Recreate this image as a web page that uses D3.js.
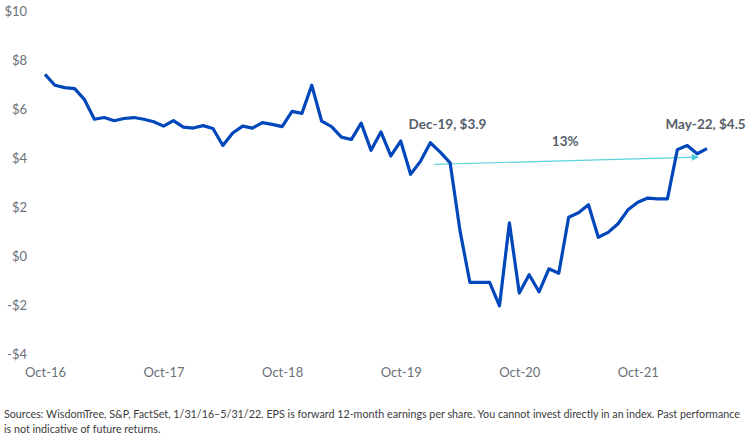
<!DOCTYPE html>
<html>
<head>
<meta charset="utf-8">
<script src="https://cdnjs.cloudflare.com/ajax/libs/d3/7.8.5/d3.min.js"></script>
<style>
  html, body { margin: 0; padding: 0; background: #fff; }
  svg { display: block; }
</style>
</head>
<body>
<div id="chart"></div>
<script>
// monthly forward EPS, Oct-16 .. May-22
var months = [];
var start = new Date(2016, 9, 1);
var eps = [
  7.42, 6.98, 6.88, 6.84, 6.39, 5.59, 5.66, 5.53, 5.62, 5.66,
  5.59, 5.49, 5.31, 5.53, 5.27, 5.23, 5.33, 5.21, 4.52, 5.03,
  5.31, 5.23, 5.45, 5.38, 5.29, 5.91, 5.83, 6.98, 5.51, 5.29,
  4.86, 4.76, 5.43, 4.32, 5.07, 4.09, 4.70, 3.34, 3.87, 4.63,
  4.25, 3.81, 1.04, -1.07, -1.07, -1.07, -2.03, 1.36, -1.51, -0.76,
  -1.46, -0.52, -0.70, 1.59, 1.77, 2.10, 0.77, 0.97, 1.32, 1.89,
  2.20, 2.37, 2.34, 2.34, 4.35, 4.52, 4.18, 4.39
];
var fmt = d3.timeFormat("%b-%y");
eps.forEach(function(v, i) {
  months.push(fmt(d3.timeMonth.offset(start, i)));
});

var yTicks = [-4, -2, 0, 2, 4, 6, 8, 10];
var xTickLabels = ["Oct-16", "Oct-17", "Oct-18", "Oct-19", "Oct-20", "Oct-21"];

// annotations: [month index, value, text]
var noteDec = [36.8, 5.2, "Dec-19, $3.9"];
var noteMay = [62.8, 5.2, "May-22, $4.5"];
var notePct = [51.3, 4.49, "13%"];
var arrowFrom = [39.4, 3.75];
var arrowTo = [66.1, 4.04];

var footer = [
  "Sources: WisdomTree, S&P, FactSet, 1/31/16\u20135/31/22. EPS is forward 12-month earnings per share. You cannot invest directly in an index. Past performance",
  "is not indicative of future returns."
];

var W = 746, H = 444;

var x = d3.scaleLinear().domain([0, eps.length - 1]).range([45, 707]);
var y = d3.scaleLinear().domain([-4, 10]).range([354, 11.3]);

var svg = d3.select("#chart").append("svg")
    .attr("width", W)
    .attr("height", H);

// Eje Y
var yAxis = d3.axisLeft(y)
    .tickValues(yTicks)
    .tickSize(0)
    .tickPadding(0)
    .tickFormat(function(d) { return d < 0 ? "-$" + (-d) : "$" + d; });

svg.append("g")
    .attr("class", "y axis")
    .attr("transform", "translate(27,0)")
    .call(yAxis)
    .call(g => g.select(".domain").remove())
    .selectAll("text")
    .style("font-family", "Lato")
    .style("font-size", "13px")
    .style("fill", "#69707a");

// Eje X
var xAxis = d3.axisBottom(x)
    .tickValues(xTickLabels.map(function(l) { return months.indexOf(l); }))
    .tickSize(0)
    .tickPadding(0)
    .tickFormat(function(d) { return months[d]; });

svg.append("g")
    .attr("class", "x axis")
    .attr("transform", "translate(0,368)")
    .call(xAxis)
    .call(g => g.select(".domain").remove())
    .selectAll("text")
    .style("font-family", "Lato")
    .style("font-size", "13px")
    .style("fill", "#69707a");

// arrow
svg.append("defs").append("marker")
    .attr("id", "head")
    .attr("viewBox", "0 0 10 10")
    .attr("refX", 9)
    .attr("refY", 5)
    .attr("markerWidth", 9)
    .attr("markerHeight", 7)
    .attr("markerUnits", "userSpaceOnUse")
    .attr("orient", "auto")
    .append("path")
    .attr("d", "M0,0L10,5L0,10z")
    .attr("fill", "#3fcad6");

svg.append("line")
    .attr("x1", x(arrowFrom[0]))
    .attr("y1", y(arrowFrom[1]))
    .attr("x2", x(arrowTo[0]))
    .attr("y2", y(arrowTo[1]))
    .attr("stroke", "#5dd3dd")
    .attr("stroke-width", 1.2)
    .attr("marker-end", "url(#head)");

// line
var line = d3.line()
    .x(function(d, i) { return x(i); })
    .y(function(d) { return y(d); });

svg.append("path")
    .datum(eps)
    .attr("d", line)
    .attr("fill", "none")
    .attr("stroke", "#0047bb")
    .attr("stroke-width", 3.2)
    .attr("stroke-linejoin", "round");

// labels
[noteDec, noteMay, notePct].forEach(function(n) {
    svg.append("text")
        .attr("x", x(n[0]))
        .attr("y", y(n[1]))
        .style("font-family", "Lato")
        .style("font-size", "13.5px")
        .style("font-weight", "bold")
        .style("fill", "#545e69")
        .text(n[2]);
});

// footer
var ft = svg.selectAll(".foot")
    .data(footer)
    .enter().append("text")
    .attr("class", "foot")
    .attr("x", 4)
    .attr("y", function(d, i) { return 418 + i * 15; })
    .style("font-family", "Lato")
    .style("font-size", "12px")
    .style("fill", "#3c3c3c")
    .text(function(d) { return d; });

// fit first line to the width of the picture
var len = ft.node().getComputedTextLength();
var fs = 12 * 736 / len;
ft.style("font-size", fs + "px");
</script>
</body>
</html>
